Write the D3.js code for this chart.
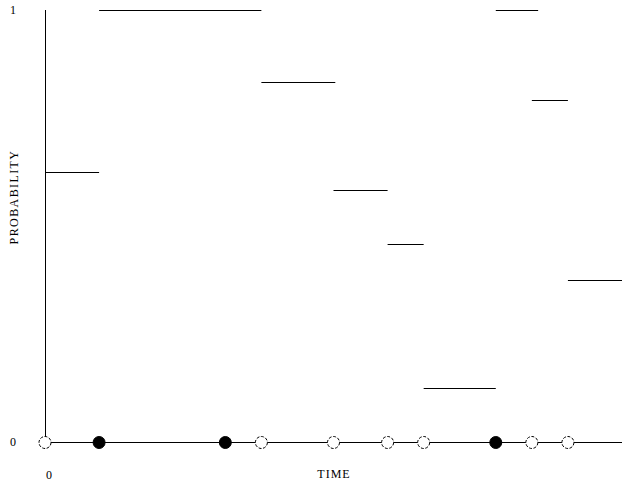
<!DOCTYPE html>
<html>
<head>
<meta charset="utf-8">
<script src="https://cdn.jsdelivr.net/npm/d3@7"></script>
<style>
  body { margin: 0; background: #fff; }
  text { font-family: "Liberation Serif", "DejaVu Serif", serif; font-size: 12px; fill: #000; }
</style>
</head>
<body>
<div id="graph"></div>
<script>
// step segments: start time, end time, probability
var segStart = [0, 6, 24, 32, 38, 42, 50, 54, 58];
var segEnd   = [6, 24, 32.2, 38, 42, 50, 54.7, 58, 64];
var segProb  = [5/8, 1, 5/6, 7/12, 11/24, 1/8, 1, 19/24, 3/8];

// events on the time axis
var eventTimes  = [0, 6, 20, 24, 32, 38, 42, 50, 54, 58];
var eventFilled = [false, true, true, false, false, false, false, true, false, false];

var yTickLabels = ["0", "1"];

var margin = {top: 10, right: 10, bottom: 47, left: 45},
    width = 632 - margin.left - margin.right,
    height = 489 - margin.top - margin.bottom;

var svg = d3.select("#graph")
  .append("svg")
    .attr("width", 632)
    .attr("height", 489)
  .append("g")
    .attr("transform", "translate(" + margin.left + "," + margin.top + ")");

var x = d3.scaleLinear().domain([0, 64]).range([0, 577]);
var y = d3.scaleLinear().domain([0, 1]).range([432, 0]);

// axes
svg.append("line")
  .attr("x1", x(0)).attr("x2", x(64))
  .attr("y1", y(0)).attr("y2", y(0))
  .attr("stroke", "#000").attr("shape-rendering", "crispEdges");
svg.append("line")
  .attr("x1", x(0)).attr("x2", x(0))
  .attr("y1", y(0)).attr("y2", y(1))
  .attr("stroke", "#000").attr("shape-rendering", "crispEdges");

// y tick labels
svg.selectAll(".ylab")
  .data(yTickLabels)
  .enter()
  .append("text")
    .attr("x", -32)
    .attr("y", function (d) { return y(+d) + 4; })
    .style("text-anchor", "middle")
    .text(function (d) { return d; });

// x origin label
svg.append("text")
  .attr("x", x(0) + 4)
  .attr("y", y(0) + 37)
  .style("text-anchor", "middle")
  .text("0");

// axis titles
svg.append("text")
  .attr("x", 289)
  .attr("y", y(0) + 36)
  .style("text-anchor", "middle")
  .style("letter-spacing", "1px")
  .text("TIME");

svg.append("text")
  .attr("transform", "rotate(-90)")
  .attr("x", -187)
  .attr("y", -27)
  .style("text-anchor", "middle")
  .style("letter-spacing", "1.4px")
  .text("PROBABILITY");

// step segments
svg.selectAll(".seg")
  .data(segStart)
  .enter()
  .append("line")
    .attr("x1", function (d) { return x(d); })
    .attr("x2", function (d, i) { return x(segEnd[i]); })
    .attr("y1", function (d, i) { return Math.round(y(segProb[i])) + 0.5; })
    .attr("y2", function (d, i) { return Math.round(y(segProb[i])) + 0.5; })
    .attr("stroke", "#000")
    .attr("stroke-width", 1);

// event markers
svg.selectAll(".ev")
  .data(eventTimes)
  .enter()
  .append("circle")
    .attr("cx", function (d) { return x(d); })
    .attr("cy", y(0) + 0.5)
    .attr("r", 6)
    .attr("fill", function (d, i) { return eventFilled[i] ? "#000" : "#fff"; })
    .attr("stroke", "#000")
    .attr("stroke-width", 1)
    .attr("stroke-dasharray", function (d, i) { return eventFilled[i] ? null : "3,1.5"; });
</script>
</body>
</html>
